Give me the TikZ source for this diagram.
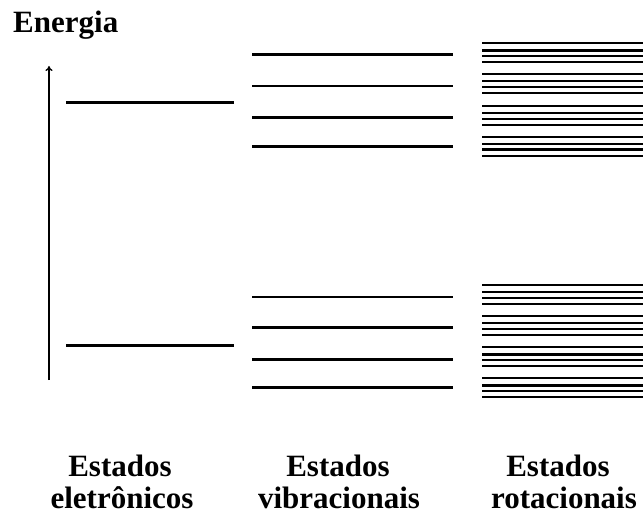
\documentclass[tikz,border=0pt]{standalone}
\usepackage{fontspec}
\setmainfont{Liberation Serif}
\usetikzlibrary{arrows.meta}

\begin{document}
\begin{tikzpicture}[x=1pt, y=-1pt,
	label text/.style={font=\fontsize{31}{35}\selectfont\bfseries, inner sep=0pt},
	eletronico/.style={line width=3pt},
	vibracional/.style={line width=2.6pt},
	rotacional/.style={line width=2.3pt}]

	\useasboundingbox (0,0) rectangle (643,516);

% Define coordinates.

	%energy axis
	\coordinate (energyBottom) at (49, 380);
	\coordinate (energyTop) at (49, 66);

	%electronic levels
	\coordinate (eUpperTail) at (66, 103);
	\coordinate (eUpperHead) at (234, 103);
	\coordinate (eLowerTail) at (66, 345);
	\coordinate (eLowerHead) at (234, 345);

% Draw axis.

	\draw[line width=1.3pt, -{To[length=5pt, width=7pt]}] (energyBottom) -- (energyTop);
	\node[label text, anchor=base west] (energia) at (13, 33) {Energia};

% Draw electronic states.

	\draw[eletronico] (eUpperTail) -- (eUpperHead);
	\draw[eletronico] (eLowerTail) -- (eLowerHead);

% Draw vibrational states.

	\foreach \y in {54.7, 86, 117.7, 146.3, 297, 327.3, 359.3, 387.7}
		\draw[vibracional] (252, \y) -- (453, \y);

% Draw rotational states.

	\foreach \g in {43.3, 74, 106, 136.7, 285, 316, 347.3, 378.3}
		\foreach \d in {0, 7.2, 12.8, 19}
			\draw[rotacional] (482, \g+\d) -- (643, \g+\d);

% Draw column labels.

	\node[label text, anchor=base] (estadosE) at (120, 476) {Estados};
	\node[label text, anchor=base] (eletronicos) at (122, 508.5) {eletrônicos};

	\node[label text, anchor=base] (estadosV) at (338, 476) {Estados};
	\node[label text, anchor=base] (vibracionais) at (339, 508.5) {vibracionais};

	\node[label text, anchor=base] (estadosR) at (558, 476) {Estados};
	\node[label text, anchor=base] (rotacionais) at (564, 508.5) {rotacionais};

\end{tikzpicture}
\end{document}
